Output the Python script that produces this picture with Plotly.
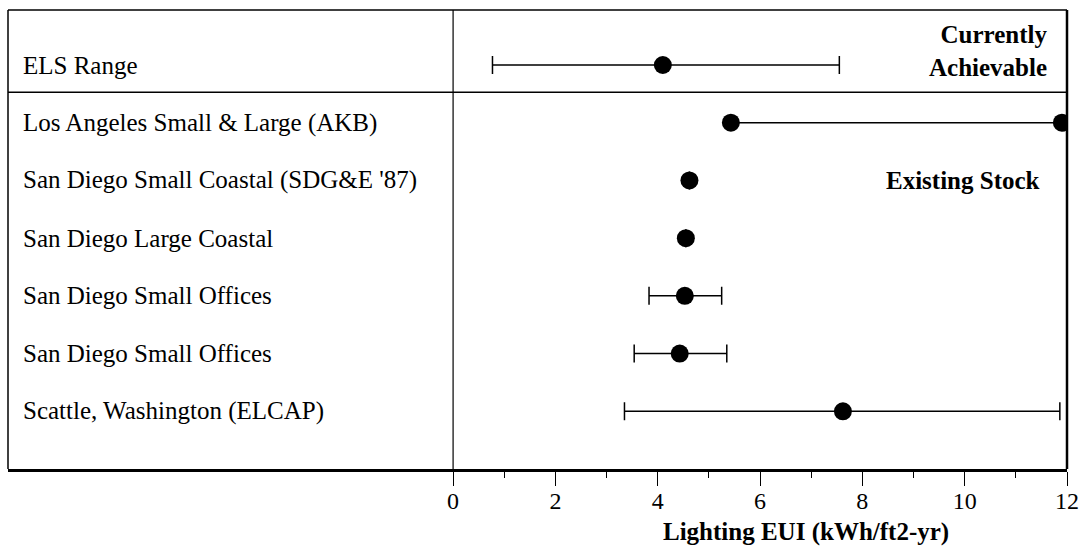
import plotly.graph_objects as go

# ---- data ----
categories = [
    "ELS Range",
    "Los Angeles Small & Large (AKB)",
    "San Diego Small Coastal (SDG&E '87)",
    "San Diego Large Coastal",
    "San Diego Small Offices",
    "San Diego Small Offices",
    "Scattle, Washington (ELCAP)",
]
# point estimates (None where the row is a two-point span)
point_values = [4.10, None, 4.62, 4.55, 4.53, 4.43, 7.62]
range_low = [0.77, None, None, None, 3.83, 3.54, 3.35]
range_high = [7.55, None, None, None, 5.25, 5.35, 11.86]
# Los Angeles row: two estimates joined by a line
la_values = [5.43, 11.9]

tick_vals = [0, 2, 4, 6, 8, 10, 12]
minor_tick_vals = [1, 3, 5, 7, 9, 11]

FONT = "Liberation Serif"

fig = go.Figure()

# Points with ranges
xs, ys, ep, em = [], [], [], []
for i, v in enumerate(point_values):
    if v is None:
        continue
    xs.append(v)
    ys.append(i)
    lo, hi = range_low[i], range_high[i]
    ep.append(hi - v if hi is not None else 0)
    em.append(v - lo if lo is not None else 0)

fig.add_trace(go.Scatter(
    x=xs, y=ys, mode="markers",
    marker=dict(size=18, color="black"),
    error_x=dict(type="data", symmetric=False, array=ep, arrayminus=em,
                 color="black", thickness=1.5, width=9),
    showlegend=False, hoverinfo="x",
))

# Los Angeles span
fig.add_trace(go.Scatter(
    x=la_values, y=[1, 1], mode="lines+markers",
    line=dict(color="black", width=1.5),
    marker=dict(size=18, color="black"),
    showlegend=False, hoverinfo="x",
))

# Row labels
for i, c in enumerate(categories):
    fig.add_annotation(x=-8.44, y=i, xref="x", yref="y", text=c,
                       showarrow=False, xanchor="left", yanchor="middle",
                       font=dict(family=FONT, size=25, color="black"))

fig.add_annotation(x=11.67, y=-0.24, xref="x", yref="y",
                   text="<b>Currently</b><br><b>Achievable</b>", align="right",
                   showarrow=False, xanchor="right", yanchor="middle",
                   font=dict(family=FONT, size=25, color="black"))
fig.add_annotation(x=11.52, y=2, xref="x", yref="y",
                   text="<b>Existing Stock</b>", align="right",
                   showarrow=False, xanchor="right", yanchor="middle",
                   font=dict(family=FONT, size=25, color="black"))

# Axis title
fig.add_annotation(x=6.9, y=-0.1375, xref="x", yref="paper",
                   text="<b>Lighting EUI (kWh/ft2-yr)</b>",
                   showarrow=False, xanchor="center", yanchor="middle",
                   font=dict(family=FONT, size=25, color="black"))

# Frame lines
line_c = "black"
fig.add_shape(type="line", xref="paper", yref="paper", x0=0, x1=1, y0=1, y1=1,
              line=dict(color=line_c, width=1.5))
fig.add_shape(type="line", xref="paper", yref="paper", x0=0, x1=0, y0=0, y1=1,
              line=dict(color=line_c, width=1.5))
fig.add_shape(type="line", xref="paper", yref="paper", x0=1, x1=1, y0=0, y1=1,
              line=dict(color=line_c, width=2.5))
fig.add_shape(type="line", xref="x", yref="paper", x0=0, x1=0, y0=0, y1=1,
              line=dict(color=line_c, width=1.2))
fig.add_shape(type="line", xref="paper", yref="y", x0=0, x1=1, y0=0.47, y1=0.47,
              line=dict(color=line_c, width=1.5))

fig.update_xaxes(
    range=[-8.70, 12], tickvals=tick_vals, ticktext=[str(t) for t in tick_vals],
    ticks="outside", ticklen=14, tickwidth=1.3, tickcolor="black",
    ticklabelstandoff=-6,
    showline=True, linecolor="black", linewidth=3,
    showgrid=False, zeroline=False,
    tickfont=dict(family=FONT, size=24, color="black"),
    minor=dict(tickvals=minor_tick_vals, ticks="outside", ticklen=6,
               tickwidth=1.3, tickcolor="black", showgrid=False),
)
fig.update_yaxes(range=[7.0, -0.953], showticklabels=False, showgrid=False,
                 zeroline=False, showline=False, ticks="")

fig.update_layout(
    width=1087, height=556,
    margin=dict(l=8, r=20, t=10, b=87),
    plot_bgcolor="white", paper_bgcolor="white",
    showlegend=False,
)

fig.write_html("out.html")
